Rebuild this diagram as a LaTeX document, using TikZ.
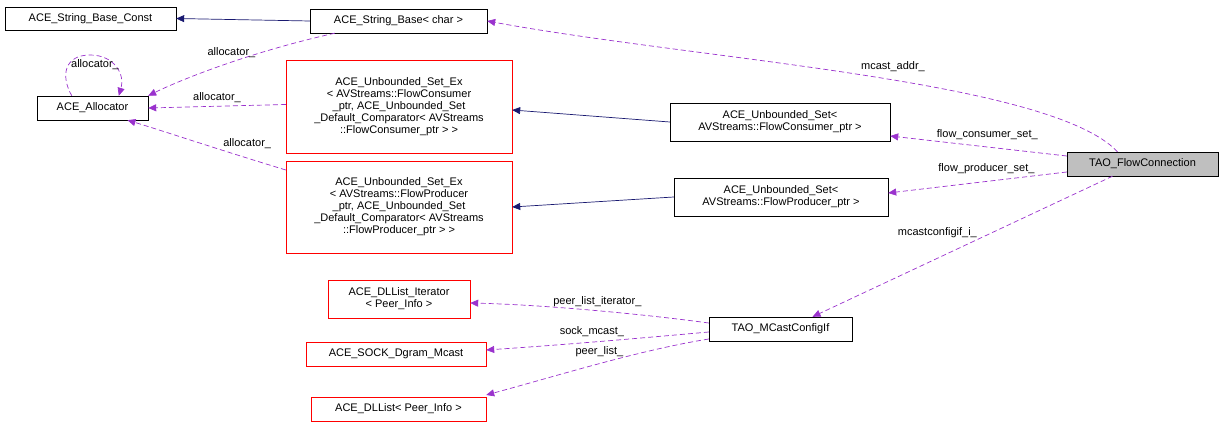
\documentclass[tikz,border=0pt]{standalone}
\usepackage{fontspec}
\setmainfont{Liberation Sans}
\usetikzlibrary{arrows.meta,calc}
\definecolor{navy}{HTML}{191970}
\definecolor{purp}{HTML}{9A32CD}
\begin{document}
\begin{tikzpicture}[x=1pt,y=-1pt,font=\fontsize{11}{12}\selectfont,
 box/.style={draw=black,fill=white,inner sep=0pt,align=center},
 rbox/.style={box,draw=red},
 inh/.style={draw=navy,line width=0.7pt,-{Triangle[length=8pt,width=7pt]}},
 use/.style={draw=purp,line width=0.7pt,dashed,dash pattern=on 5pt off 3pt,-{Triangle[length=8pt,width=7pt]}},
 lab/.style={font=\fontsize{11}{12}\selectfont}]
\useasboundingbox (0,0) rectangle (1224,427);
\node[box,minimum width=171,minimum height=23] (sbc) at (90.5,18.5) {ACE\_String\_Base\_Const};
\node[box,minimum width=177,minimum height=24] (sb) at (398.5,21) {ACE\_String\_Base< char >};
\node[box,minimum width=111,minimum height=24] (al) at (92.5,108) {ACE\_Allocator};
\node[rbox,minimum width=226,minimum height=93] (sec) at (399,106.5) {ACE\_Unbounded\_Set\_Ex\\< AVStreams::FlowConsumer\\\_ptr, ACE\_Unbounded\_Set\\\_Default\_Comparator< AVStreams\\::FlowConsumer\_ptr > >};
\node[rbox,minimum width=226,minimum height=92] (sep) at (399,207) {ACE\_Unbounded\_Set\_Ex\\< AVStreams::FlowProducer\\\_ptr, ACE\_Unbounded\_Set\\\_Default\_Comparator< AVStreams\\::FlowProducer\_ptr > >};
\node[box,minimum width=220,minimum height=38] (usc) at (780,122) {ACE\_Unbounded\_Set<\\AVStreams::FlowConsumer\_ptr >};
\node[box,minimum width=214,minimum height=38] (usp) at (781,197) {ACE\_Unbounded\_Set<\\AVStreams::FlowProducer\_ptr >};
\node[box,fill=black!25,minimum width=151,minimum height=24] (fc) at (1142.5,164) {TAO\_FlowConnection};
\node[rbox,minimum width=142,minimum height=38] (dli) at (399,299) {ACE\_DLList\_Iterator\\< Peer\_Info >};
\node[rbox,minimum width=180,minimum height=24] (sdm) at (396,354) {ACE\_SOCK\_Dgram\_Mcast};
\node[rbox,minimum width=175,minimum height=24] (dl) at (398.5,409) {ACE\_DLList< Peer\_Info >};
\node[box,minimum width=143,minimum height=24] (mc) at (780.5,329) {TAO\_MCastConfigIf};
\draw[inh] (sb.west) -- (sbc.east);
\draw[inh] (usc.west) -- (sec.east |- 0,110);
\draw[inh] (usp.west) -- (sep.east |- 0,207);
\draw[use] (sb.south west) ++(25,0) .. controls (250,52) and (180,80) .. (al.north east) node[pos=.45,above=1pt,lab] (l1) {allocator\_};
\draw[use] (al.north west) ++(35,0) .. controls (60,75) and (65,55) .. (90,55) .. controls (115,55) and (125,75) .. ($(al.north west)+(82,0)$);
\node[lab] (l0) at (95,65) {allocator\_};
\draw[use] (sec.west) ++(0,-2) -- (al.east) node[midway,above,lab] (l2) {allocator\_};
\draw[use] (sep.west |- 0,170) .. controls (220,150) and (160,130) .. ($(al.south)+(35,0)$) node[pos=.2,above=6pt,lab] (l3) {allocator\_};
\draw[use] (fc.north) ++(-25,0) .. controls (1050,80) and (700,60) .. (sb.east) node[pos=.45,above=5pt,lab] (l4) {mcast\_addr\_};
\draw[use] (fc.west) ++(0,-8) -- (usc.east |- 0,136) node[pos=.45,above=4pt,lab] (l5) {flow\_consumer\_set\_};
\draw[use] (fc.west) ++(0,8) -- (usp.east |- 0,193) node[pos=.45,above=4pt,lab] (l6) {flow\_producer\_set\_};
\draw[use] (fc.south) ++(-30,0) -- ($(mc.north)+(32,0)$) node[pos=.4,left=12pt,lab] (l7) {mcastconfigif\_i\_};
\draw[use] (mc.west) ++(0,-6) .. controls (650,315) and (550,305) .. (dli.east |- 0,303) node[pos=.5,above=0pt,lab] (l8) {peer\_list\_iterator\_};
\draw[use] (mc.west) ++(0,3) .. controls (620,340) and (560,345) .. (sdm.east |- 0,350) node[pos=.5,above=2pt,lab] (l9) {sock\_mcast\_};
\draw[use] (mc.west) ++(0,10) .. controls (640,350) and (560,375) .. (dl.east |- 0,395) node[pos=.5,above=3pt,lab] (l10) {peer\_list\_};
\end{tikzpicture}
\end{document}
